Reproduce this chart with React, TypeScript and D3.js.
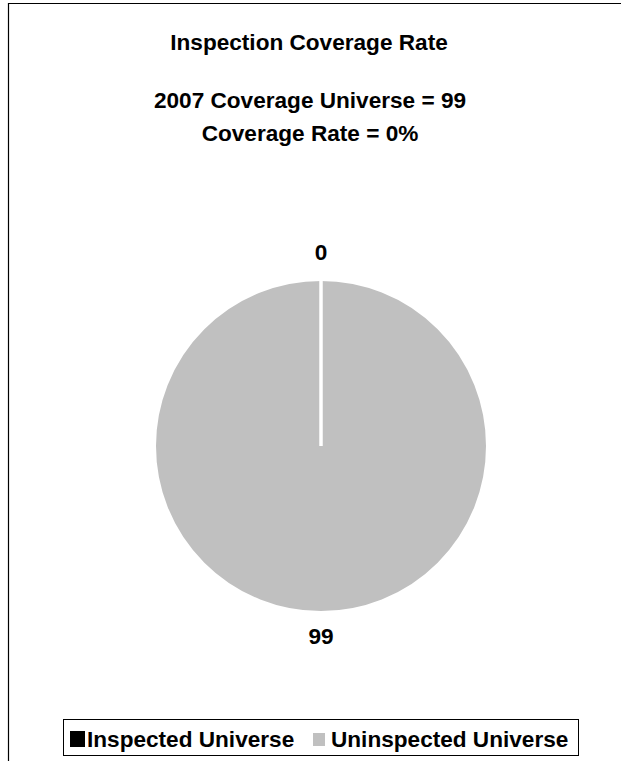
import React from "react";
import * as d3 from "d3";

const categories = ["Inspected Universe", "Uninspected Universe"];
const values = [0, 99];
const colors = ["#000000", "#C0C0C0"];
const titleLines = ["Inspection Coverage Rate", "2007 Coverage Universe = 99", "Coverage Rate = 0%"];

const W = 621;
const H = 761;

export default function App() {
  const cx = 321;
  const cy = 446;
  const r = 166.5;
  const pie = d3.pie<number>().sort(null).startAngle(0).endAngle(2 * Math.PI);
  const arcs = pie(values);
  const arcGen = d3.arc<d3.PieArcDatum<number>>().innerRadius(0).outerRadius(r);
  const labelArc = d3.arc<d3.PieArcDatum<number>>().innerRadius(192).outerRadius(192);
  const font = "'Liberation Sans', Arial, sans-serif";
  const fs = 22.6;

  return (
    <svg width={W} height={H} style={{ position: "absolute", left: 0, top: 0 }} fontFamily={font}>
      <rect x={0} y={0} width={W} height={H} fill="#fff" />
      <path d={`M8.5,${H} V3.5 H${W}`} fill="none" stroke="#000" strokeWidth={1.2} />
      <text x={309} y={50} textAnchor="middle" fontWeight="bold" fontSize={fs}>{titleLines[0]}</text>
      <text x={310} y={108} textAnchor="middle" fontWeight="bold" fontSize={fs}>{titleLines[1]}</text>
      <text x={310} y={141} textAnchor="middle" fontWeight="bold" fontSize={fs}>{titleLines[2]}</text>
      <g transform={`translate(${cx},${cy})`}>
        {arcs.map((a, i) => (
          <path key={i} d={arcGen(a) || ""} fill={colors[i]} stroke="#fff" strokeWidth={3} />
        ))}
        {arcs.map((a, i) => {
          const ang = a.startAngle;
          return (
            <line key={"b" + i} x1={0} y1={0} x2={r * Math.sin(ang)} y2={-r * Math.cos(ang)} stroke="#fff" strokeWidth={3} />
          );
        })}
        {arcs.map((a, i) => {
          const [x, y] = labelArc.centroid(a);
          return (
            <text key={"l" + i} x={x} y={y - 1.5} dy="0.35em" textAnchor="middle" fontWeight="bold" fontSize={fs}>
              {String(values[i])}
            </text>
          );
        })}
      </g>
      <g>
        <rect x={63.5} y={719.5} width={515} height={36} fill="#fff" stroke="#000" strokeWidth={1} />
        <rect x={70} y={731} width={15} height={16} fill={colors[0]} />
        <text x={87} y={747} fontWeight="bold" fontSize={fs}>{categories[0]}</text>
        <rect x={313} y={733} width={12} height={13} fill={colors[1]} />
        <text x={331} y={747} fontWeight="bold" fontSize={fs}>{categories[1]}</text>
      </g>
    </svg>
  );
}
